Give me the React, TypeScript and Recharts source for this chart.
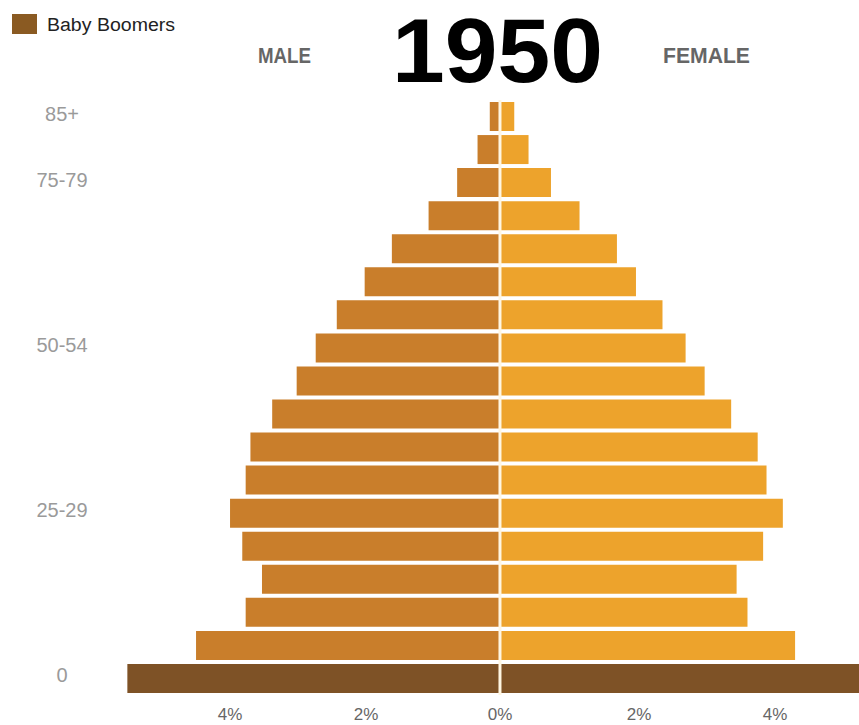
import React from 'react';
import { BarChart, Bar, XAxis, YAxis, Cell, ReferenceLine } from 'recharts';

// age groups, top to bottom
const ageGroups = [
  '85+', '80-84', '75-79', '70-74', '65-69', '60-64', '55-59', '50-54', '45-49',
  '40-44', '35-39', '30-34', '25-29', '20-24', '15-19', '10-14', '5-9', '0-4',
];
// share of total population, %
const maleShare = [
  0.15, 0.33, 0.63, 1.05, 1.59, 1.99, 2.4, 2.71, 2.99,
  3.35, 3.67, 3.74, 3.97, 3.79, 3.5, 3.74, 4.47, 5.48,
];
const femaleShare = [
  0.21, 0.42, 0.75, 1.17, 1.72, 2.0, 2.39, 2.73, 3.01,
  3.4, 3.79, 3.92, 4.16, 3.87, 3.48, 3.64, 4.34, 5.4,
];
const boomerGroups = ['0-4'];

const yTicks = ['85+', '75-79', '50-54', '25-29', '0-4'];
const yTickText = ['85+', '75-79', '50-54', '25-29', '0'];
const xTicks = [-4, -2, 0, 2, 4];

const MALE_COLOR = '#C97E2B';
const FEMALE_COLOR = '#EDA32C';
const BOOMER_COLOR = '#7E5226';
const SANS = "'Liberation Sans', Arial, sans-serif";
const NARROW = "'Liberation Sans Narrow', 'Liberation Sans', Arial, sans-serif";

const data = ageGroups.map((age, i) => ({
  age,
  male: -maleShare[i],
  female: femaleShare[i],
}));

const AgeTick = (props: any) => {
  const { y, payload } = props;
  const idx = yTicks.indexOf(payload.value);
  return (
    <text x={62} y={y + 4} textAnchor="middle" fontSize={20} fill="#9a9a9a" fontFamily={SANS}>
      {idx >= 0 ? yTickText[idx] : ''}
    </text>
  );
};

const PctTick = (props: any) => {
  const { x, payload } = props;
  return (
    <text x={x + (payload.value < 0 ? 2 : payload.value > 0 ? 3 : 0)} y={720} textAnchor="middle" fontSize={17} fill="#666" fontFamily={NARROW}>
      {Math.abs(payload.value) + '%'}
    </text>
  );
};

export default function App() {
  return (
    <div style={{ position: 'absolute', left: 0, top: 0, width: 859, height: 725, background: '#fff', overflow: 'hidden' }}>
      <BarChart
        width={859}
        height={725}
        data={data}
        layout="vertical"
        stackOffset="sign"
        margin={{ top: 100, right: 0, bottom: 0, left: 0 }}
      >
        <XAxis
          type="number"
          domain={[-5.75, 5.28]}
          allowDataOverflow
          ticks={xTicks}
          axisLine={false}
          tickLine={false}
          height={30}
          tick={<PctTick />}
        />
        <YAxis
          type="category"
          dataKey="age"
          ticks={yTicks}
          width={109}
          axisLine={false}
          tickLine={false}
          tick={<AgeTick />}
        />
        <Bar dataKey="male" stackId="pop" barSize={29} isAnimationActive={false}>
          {data.map((d) => (
            <Cell key={d.age} fill={boomerGroups.includes(d.age) ? BOOMER_COLOR : MALE_COLOR} />
          ))}
        </Bar>
        <Bar dataKey="female" stackId="pop" barSize={29} isAnimationActive={false}>
          {data.map((d) => (
            <Cell key={d.age} fill={boomerGroups.includes(d.age) ? BOOMER_COLOR : FEMALE_COLOR} />
          ))}
        </Bar>
        <ReferenceLine x={0} stroke="#FFF6E2" strokeWidth={3} />
      </BarChart>

      {/* title, sex labels and legend */}
      <svg width={859} height={100} style={{ position: 'absolute', left: 0, top: 0, pointerEvents: 'none' }}>
        <rect x={12} y={14} width={25} height={20} fill="#8A5A22" />
        <text x={47} y={31} fontSize={18} fill="#222" fontFamily={SANS} textLength={128} lengthAdjust="spacingAndGlyphs">
          Baby Boomers
        </text>
        <text x={258} y={63} fontSize={22} fontWeight="bold" fill="#666" fontFamily={NARROW} textLength={53} lengthAdjust="spacingAndGlyphs">
          MALE
        </text>
        <text x={663} y={63} fontSize={22} fontWeight="bold" fill="#666" fontFamily={NARROW} textLength={87} lengthAdjust="spacingAndGlyphs">
          FEMALE
        </text>
        <text x={392} y={82} fontSize={90} fontWeight="bold" fill="#000" fontFamily={SANS} textLength={211} lengthAdjust="spacingAndGlyphs">
          1950
        </text>
      </svg>
    </div>
  );
}
